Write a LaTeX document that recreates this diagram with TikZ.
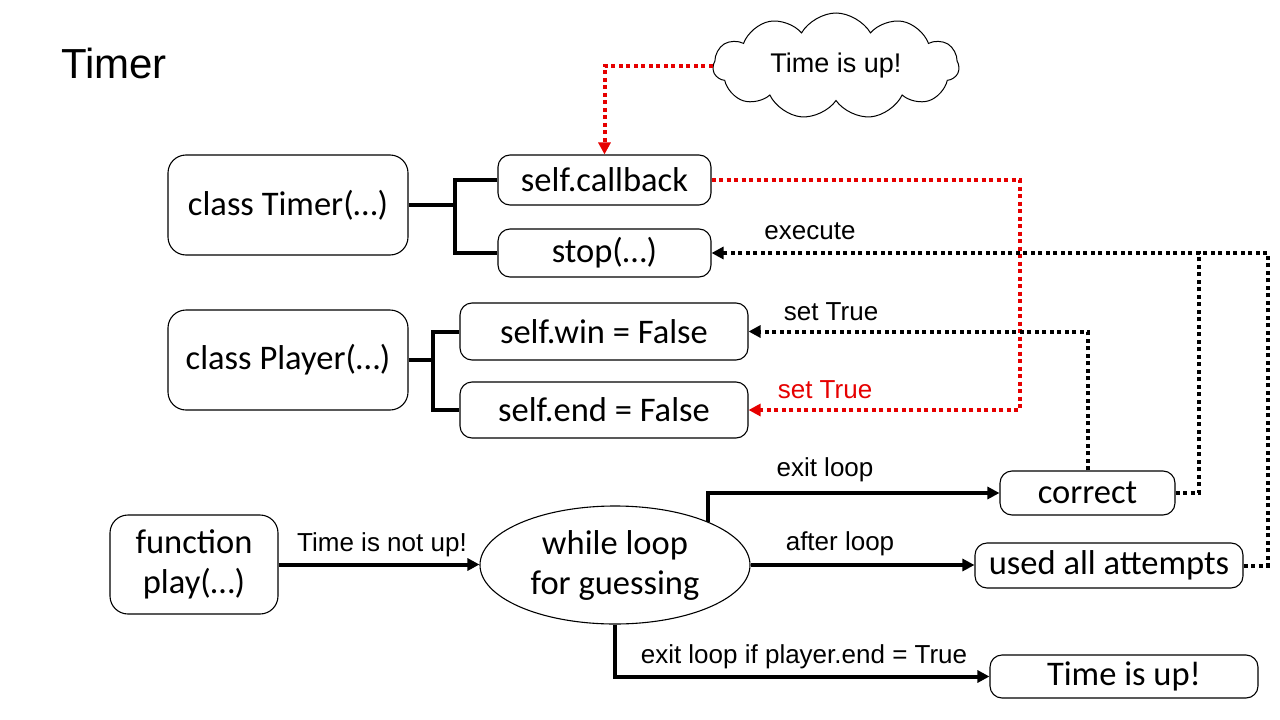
\documentclass[tikz,border=0pt]{standalone}
\usepackage{fontspec}
\setmainfont{Carlito}
\newfontfamily\arialf{Liberation Sans}
\usetikzlibrary{shapes.geometric,shapes.symbols,arrows.meta}
\definecolor{sred}{RGB}{230,0,0}
\begin{document}
\begin{tikzpicture}[x=1pt,y=-1pt,
  box/.style={draw,line width=1.1pt,rounded corners=12pt,inner sep=0pt,align=center,
    font=\fontsize{34.5}{40}\selectfont},
  lab/.style={inner sep=0pt,font=\arialf\fontsize{26}{30}\selectfont},
  conn/.style={line width=4pt},
  arr/.style={conn,-{Triangle[length=12pt,width=12pt]}},
  dots/.style={line width=4pt,dash pattern=on 4pt off 3.5pt},
  darr/.style={dots,-{Triangle[length=12pt,width=12pt]}},
]
\useasboundingbox (0,0) rectangle (1280,720);
\fill[white] (0,0) rectangle (1280,720);

% title
\node[anchor=west,inner sep=0pt,font=\arialf\fontsize{42}{48}\selectfont] (title) at (61,63) {Timer};

% cloud
\node[cloud,draw,line width=1pt,cloud puffs=11,cloud puff arc=120,cloud ignores aspect,
      minimum width=246pt,minimum height=106pt,inner sep=0pt,
      font=\arialf\fontsize{27}{30}\selectfont] (cloud) at (836,66) {Time is up!};

% boxes
\node[box,minimum width=240pt,minimum height=100pt,rounded corners=18pt] (timer) at (288,205) {class Timer(…)};
\node[box,minimum width=213pt,minimum height=50pt] (cb) at (604.5,180) {self.callback};
\node[box,minimum width=213pt,minimum height=48pt] (stop) at (604.5,253) {stop(…)};
\node[box,minimum width=240pt,minimum height=100pt,rounded corners=18pt] (player) at (288,360) {class Player(…)};
\node[box,minimum width=288pt,minimum height=57pt] (win) at (604,331.5) {self.win = False};
\node[box,minimum width=288pt,minimum height=56pt] (end) at (604,410) {self.end = False};
\node[box,minimum width=168pt,minimum height=99pt,rounded corners=18pt] (play) at (194,564.5) {function\\play(…)};
\node[ellipse,draw,line width=1.1pt,minimum width=270pt,minimum height=118pt,inner sep=0pt,align=center,
      font=\fontsize{34.5}{40}\selectfont] (loop) at (615,565) {while loop\\for guessing};
\node[box,minimum width=175pt,minimum height=44pt] (correct) at (1087.5,493) {correct};
\node[box,minimum width=268pt,minimum height=45pt] (used) at (1109,565.5) {used all attempts};
\node[box,minimum width=268pt,minimum height=43pt] (timeup) at (1124,676.5) {Time is up!};

% brackets
\coordinate (tb) at (455,205);
\draw[conn] (timer.east) -- (tb);
\draw[conn] (cb.west) -| (tb) |- (stop.west);
\coordinate (pb) at (433,360);
\draw[conn] (player.east) -- (pb);
\draw[conn] (win.west) -| (pb) |- (end.west);

% solid arrows
\draw[arr] (play.east) -- (play.east -| loop.west);
\draw[arr] (loop.25) |- (correct.west);
\draw[arr] (loop.east) -- (loop.east -| used.west);
\draw[arr] (loop.south) |- (timeup.west);

% red dotted
\draw[sred,darr] (cloud.west) -| (cb.north);
\coordinate (r1) at (1020,0);
\draw[sred,darr] (cb.east) -| (r1 |- end.east) -- (end.east);

% black dotted
\draw[darr] (correct.north) |- (win.east);
\coordinate (k1) at (1199,0);
\coordinate (k2) at (1268,0);
\draw[darr] (correct.east) -| (k1 |- stop.east) -- (stop.east);
\draw[dots] (used.east) -| (k2 |- stop.east) -- (k1 |- stop.east);

% labels
\node[lab] (l1) at (382,545) {Time is not up!};
\node[lab] (l2) at (825,470) {exit loop};
\node[lab] (l3) at (840,544) {after loop};
\node[lab] (l4) at (804,657) {exit loop if player.end = True};
\node[lab,text=sred] (l5) at (825,390) {set True};
\node[lab] (l6) at (831,312) {set True};
\node[lab] (l7) at (810,231) {execute};
\end{tikzpicture}
\end{document}
